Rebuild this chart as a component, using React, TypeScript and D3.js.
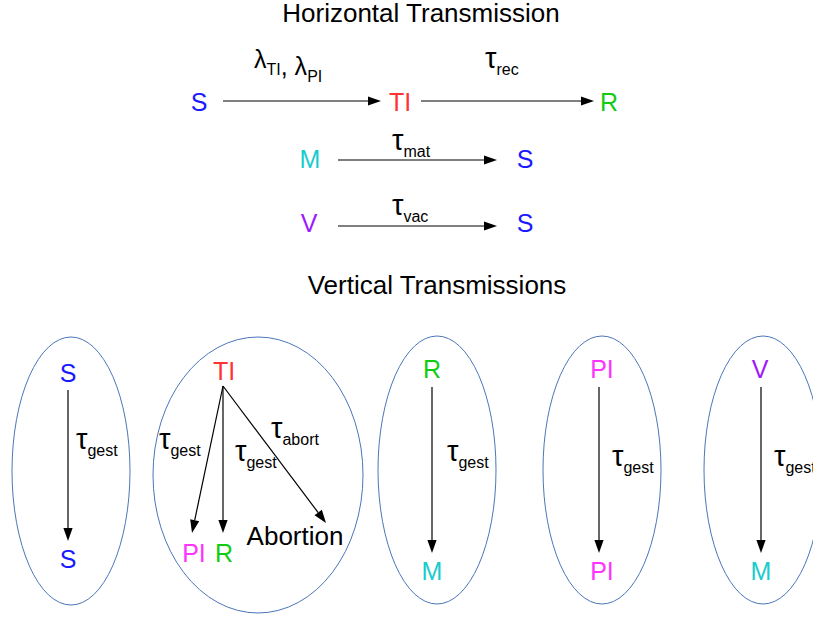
import React, { useEffect, useRef } from 'react'
import * as d3 from 'd3'

// --- diagram content ---
const BLUE = '#1a1aff'
const RED = '#ff3333'
const GREEN = '#11cc11'
const CYAN = '#1acccc'
const PURPLE = '#9d1aff'
const MAGENTA = '#ff33ff'
const INK = '#000000'
const RING = '#4a76b8'

const titles = ['Horizontal Transmission', 'Vertical Transmissions']

// compartment labels: [text, color, x, baseline]
const nodes: [string, string, number, number][] = [
  ['S', BLUE, 199, 111], ['TI', RED, 400, 111], ['R', GREEN, 609, 111],
  ['M', CYAN, 310, 168], ['S', BLUE, 525, 168],
  ['V', PURPLE, 309, 232], ['S', BLUE, 525, 232],
  ['S', BLUE, 68, 382], ['S', BLUE, 68, 568],
  ['TI', RED, 224, 380], ['PI', MAGENTA, 194, 562], ['R', GREEN, 224, 562],
  ['R', GREEN, 432, 378], ['M', CYAN, 432, 580],
  ['PI', MAGENTA, 602, 378], ['PI', MAGENTA, 602, 580],
  ['V', PURPLE, 760, 378], ['M', CYAN, 761, 580],
]

const outcome = 'Abortion'

// rate labels: parts of [symbol, subscript], start x, baseline
const rates: { parts: [string, string][]; x: number; y: number }[] = [
  { parts: [['λ', 'TI'], [', λ', 'PI']], x: 254, y: 68 },
  { parts: [['τ', 'rec']], x: 485, y: 68 },
  { parts: [['τ', 'mat']], x: 392, y: 150 },
  { parts: [['τ', 'vac']], x: 392, y: 215 },
  { parts: [['τ', 'gest']], x: 76, y: 449 },
  { parts: [['τ', 'gest']], x: 159, y: 449 },
  { parts: [['τ', 'gest']], x: 235, y: 461 },
  { parts: [['τ', 'abort']], x: 271, y: 438 },
  { parts: [['τ', 'gest']], x: 447, y: 461 },
  { parts: [['τ', 'gest']], x: 612, y: 466 },
  { parts: [['τ', 'gest']], x: 774, y: 466 },
]

// arrows: [x1, y1, x2 (tip), y2 (tip)]
const arrows: [number, number, number, number][] = [
  [223, 101, 381, 101], [421, 101, 594, 101],
  [338, 160, 497, 160], [338, 226, 497, 226],
  [68, 390, 68, 541],
  [223, 386, 192, 533], [223, 386, 223, 533], [223, 386, 326, 523],
  [432, 387, 432, 553], [599, 387, 599, 553], [761, 387, 761, 553],
]

// ellipses: [cx, cy, rx, ry]
const rings: [number, number, number, number][] = [
  [71, 471, 59, 134], [258, 475, 105, 138], [437, 470, 59, 134],
  [602, 470, 59, 134], [763, 470, 59, 134],
]

const FONT = '"Liberation Sans", Arial, sans-serif'

export default function App() {
  const ref = useRef<SVGSVGElement>(null)

  useEffect(() => {
    if (!ref.current) return
    const svg = d3.select(ref.current)
    svg.selectAll('*').remove()

    svg.append('rect').attr('width', 813).attr('height', 617).attr('fill', '#fff')

    const titleY = [22, 294]
    const titleX = [421, 437]
    svg.selectAll('text.title')
      .data(titles)
      .enter()
      .append('text')
      .attr('class', 'title')
      .attr('x', (_d, i) => titleX[i])
      .attr('y', (_d, i) => titleY[i])
      .attr('text-anchor', 'middle')
      .attr('font-size', 26)
      .attr('fill', INK)
      .text(d => d)

    svg.append('g')
      .selectAll('ellipse')
      .data(rings)
      .enter()
      .append('ellipse')
      .attr('cx', d => d[0])
      .attr('cy', d => d[1])
      .attr('rx', d => d[2])
      .attr('ry', d => d[3])
      .attr('fill', 'none')
      .attr('stroke', RING)
      .attr('stroke-width', 1)

    // arrows with filled heads
    const headLen = 13
    const headHalf = 4.6
    const ag = svg.append('g')
    arrows.forEach(([x1, y1, x2, y2]) => {
      const ang = Math.atan2(y2 - y1, x2 - x1)
      const bx = x2 - headLen * Math.cos(ang)
      const by = y2 - headLen * Math.sin(ang)
      ag.append('line')
        .attr('x1', x1).attr('y1', y1)
        .attr('x2', bx).attr('y2', by)
        .attr('stroke', INK)
        .attr('stroke-width', 1.2)
      const px = -Math.sin(ang) * headHalf
      const py = Math.cos(ang) * headHalf
      const pts: [number, number][] = [[x2, y2], [bx + px, by + py], [bx - px, by - py]]
      ag.append('path')
        .attr('d', d3.line()(pts) + 'Z')
        .attr('fill', INK)
    })

    svg.append('g')
      .selectAll('text')
      .data(nodes)
      .enter()
      .append('text')
      .attr('x', d => d[2])
      .attr('y', d => d[3])
      .attr('text-anchor', 'middle')
      .attr('font-size', 25)
      .attr('fill', d => d[1])
      .text(d => d[0])

    svg.append('text')
      .attr('x', 295)
      .attr('y', 545)
      .attr('text-anchor', 'middle')
      .attr('font-size', 26)
      .attr('fill', INK)
      .text(outcome)

    const rg = svg.append('g')
    rates.forEach(r => {
      const t = rg.append('text')
        .attr('x', r.x)
        .attr('y', r.y)
        .attr('fill', INK)
      r.parts.forEach(([sym, sub]) => {
        t.append('tspan').attr('dy', 0).attr('font-size', sym === 'τ' ? 29 : 25).text(sym)
        t.append('tspan').attr('dy', 7).attr('font-size', 16).text(sub)
        t.append('tspan').attr('dy', -7).attr('font-size', 16).text('')
      })
    })
  }, [])

  return (
    <svg
      ref={ref}
      width={813}
      height={617}
      style={{ position: 'absolute', left: 0, top: 0, fontFamily: FONT }}
    />
  )
}
